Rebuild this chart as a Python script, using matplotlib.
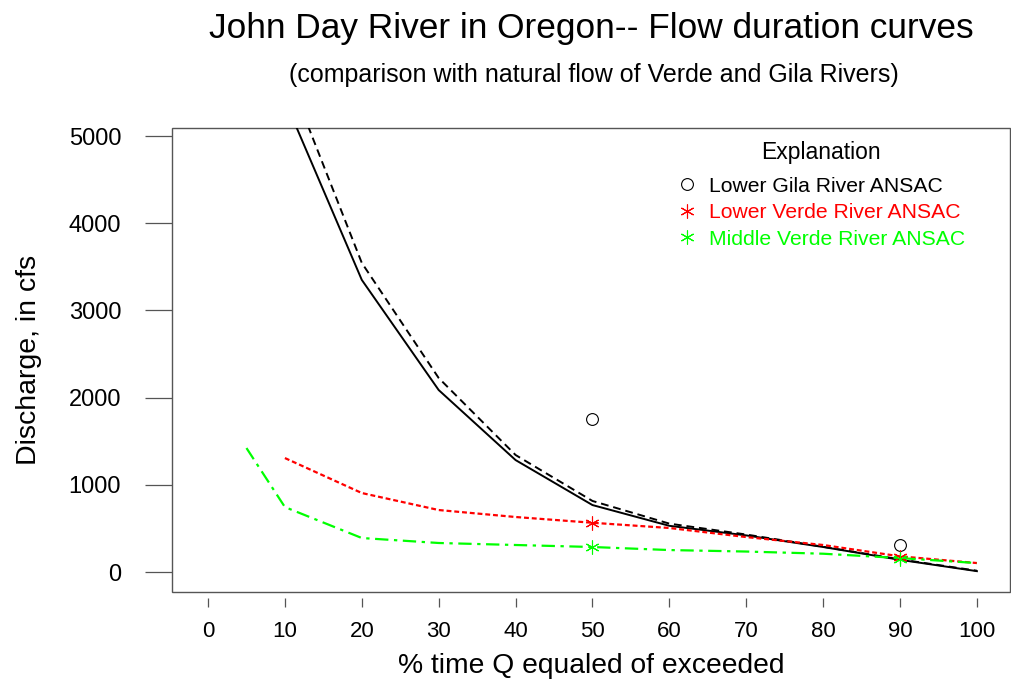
import matplotlib
matplotlib.use('Agg')
import matplotlib.pyplot as plt
from matplotlib.lines import Line2D
from matplotlib.patches import Rectangle


# percent of time discharge equaled or exceeded
pct = [10, 20, 30, 40, 50, 60, 70, 80, 90, 100]
pct_green = [5, 10, 20, 30, 40, 50, 60, 70, 80, 90, 100]

# John Day River curves (cfs)
john_day_solid = [5410, 3350, 2087, 1284, 768, 530, 420, 287, 140, 10]
john_day_dashed = [5790, 3545, 2225, 1342, 815, 555, 430, 290, 145, 15]

# Verde River natural flow curves (cfs)
lower_verde = [1307, 906, 711, 631, 565, 505, 401, 310, 180, 103]
middle_verde = [1422, 745, 390, 333, 310, 287, 252, 235, 210, 160, 103]

# ANSAC points at 50% and 90%
ansac_pct = [50, 90]
gila_ansac = [1750, 310]
lower_verde_ansac = [565, 172]
middle_verde_ansac = [287, 150]

legend_labels = ['Lower Gila River ANSAC', 'Lower Verde River ANSAC',
                 'Middle Verde River ANSAC']
legend_colors = ['black', 'red', '#00ff00']

x_ticks = list(range(0, 101, 10))
y_ticks = list(range(0, 5001, 1000))

plt.rcParams['font.family'] = ['Liberation Sans', 'DejaVu Sans']

fig = plt.figure(figsize=(10.11, 6.79), dpi=100)
ax = fig.add_axes([0.170, 0.128, 0.829, 0.6835])

asterisk = (6, 2, 0)

ax.plot(pct, john_day_solid, color='black', lw=1.4)
ax.plot(pct, john_day_dashed, color='black', lw=1.4, ls=(0, (4, 2.5)))
ax.plot(pct, lower_verde, color='red', lw=1.6, ls=(0, (2.2, 1.3)))
ax.plot(pct_green, middle_verde, color='#00ff00', lw=1.6,
        ls=(0, (6, 2.5, 1.5, 2.5)))

ax.plot(ansac_pct, gila_ansac, ls='none', marker='o', ms=8.5,
        mfc='none', mec='black', mew=0.8)
ax.plot(ansac_pct, lower_verde_ansac, ls='none', marker=asterisk, ms=10,
        mec='red', mew=0.8)
ax.plot(ansac_pct, middle_verde_ansac, ls='none', marker=asterisk, ms=10,
        mec='#00ff00', mew=0.8)

ax.set_xlim(-4.7, 104.3)
ax.set_ylim(-230, 5092)
ax.set_xticks(x_ticks)
ax.set_yticks(y_ticks)

for side in ['top', 'right', 'left', 'bottom']:
    ax.spines[side].set_visible(False)
ax.spines['bottom'].set_position(('outward', 4.5))
ax.add_patch(Rectangle((0, 0), 1, 1, transform=ax.transAxes, fill=False,
                       edgecolor='#555555', lw=1.0, clip_on=False))

ax.tick_params(axis='x', direction='out', length=6.5, width=0.9,
               color='#555555', labelsize=16, pad=10)
ax.tick_params(axis='y', direction='out', length=19.5, width=0.9,
               color='#555555', labelsize=17, pad=17)

ax.set_xlabel('% time Q equaled of exceeded', fontsize=20.3, labelpad=8)
ax.set_ylabel('Discharge, in cfs', fontsize=20.5, labelpad=19)

handles = [
    Line2D([], [], ls='none', marker='o', ms=8.5, mfc='none',
           mec='black', mew=0.8),
    Line2D([], [], ls='none', marker=asterisk, ms=10, mec='red', mew=0.8),
    Line2D([], [], ls='none', marker=asterisk, ms=10, mec='#00ff00',
           mew=0.8),
]
leg = ax.legend(handles, legend_labels, loc='upper left',
                bbox_to_anchor=(0.592, 0.99), frameon=False,
                title='Explanation', title_fontsize=16.5, fontsize=15.2,
                labelcolor=legend_colors, handlelength=1.0,
                handletextpad=0.55, labelspacing=0.36, borderaxespad=0)
leg._legend_box.sep = 9

fig.text(0.585, 0.958, 'John Day River in Oregon-- Flow duration curves',
         ha='center', va='center', fontsize=25.4)
fig.text(0.587, 0.889,
         '(comparison with natural flow of Verde and Gila Rivers)',
         ha='center', va='center', fontsize=18)

fig.savefig('out.png', dpi=100)
